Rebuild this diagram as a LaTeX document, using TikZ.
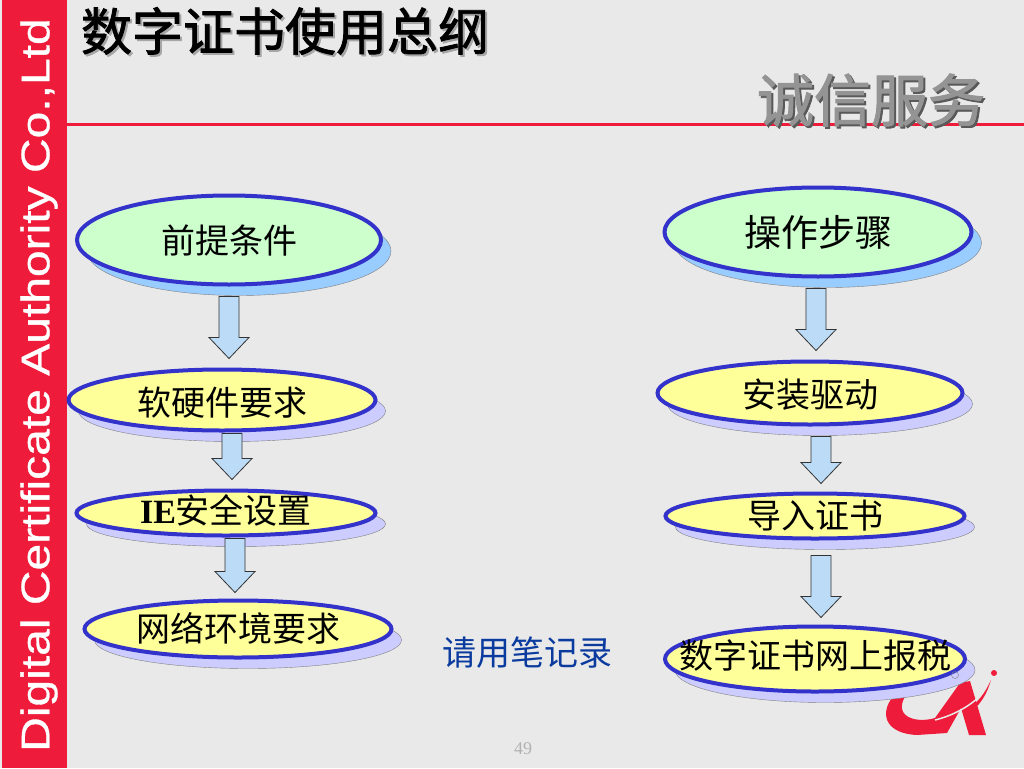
\documentclass[tikz,border=0pt]{standalone}
\usepackage{fontspec}
\setmainfont{Noto Sans CJK SC}
\newfontfamily\arialfont[FakeBold=0.7]{Liberation Sans}
\newfontfamily\timesfont{Liberation Serif}
\newfontfamily\titlefont[FakeBold=1.6]{Noto Sans CJK SC}
\usetikzlibrary{shapes.geometric,shadows,calc}
\definecolor{slidebg}{HTML}{E9E9E9}
\definecolor{cared}{HTML}{EE1C3A}
\definecolor{ringblue}{HTML}{3333CC}
\definecolor{greenfill}{HTML}{CCFFCC}
\definecolor{yellowfill}{HTML}{FFFF99}
\definecolor{skyshadow}{HTML}{99CCFF}
\definecolor{lilacshadow}{HTML}{CCCCFF}
\definecolor{arrowfill}{HTML}{BBDBF7}
\definecolor{notecolor}{HTML}{0B3B9E}
\newcommand{\lifted}[2]{\raisebox{\dimexpr#1-12pt\relax}[0pt][0pt]{\makebox[0pt]{#2}}}
\begin{document}
\begin{tikzpicture}[x=1pt,y=-1pt]
\tikzstyle{every node}=[font=\fontsize{34}{40}\selectfont,inner sep=0pt];
\tikzstyle{goal}=[ellipse,draw=ringblue,line width=4pt,fill=greenfill,
  drop shadow={shadow xshift=10pt,shadow yshift=-11pt,fill=skyshadow,draw=gray,line width=.4pt,opacity=1}];
\tikzstyle{stage}=[ellipse,draw=ringblue,line width=4pt,fill=yellowfill,
  drop shadow={shadow xshift=10pt,shadow yshift=-11pt,fill=lilacshadow,draw=gray,line width=.4pt,opacity=1}];
\tikzstyle{blockarrow}=[draw=black!80,line width=.8pt,fill=arrowfill,to path={
  let \p1=(\tikztostart),\p2=(\tikztotarget) in
  (\x1-10pt,\y1) -- (\x1-10pt,\y2+21pt) -- (\x1-20pt,\y2+21pt) -- (\x1,\y2)
  -- (\x1+20pt,\y2+21pt) -- (\x1+10pt,\y2+21pt) -- (\x1+10pt,\y1) -- cycle}];
\tikzstyle{heading}=[font=\fontsize{51}{60}\titlefont];
\tikzstyle{motto}=[font=\fontsize{57}{66}\titlefont];
\fill[slidebg] (0,0) rectangle (1024,768);
\useasboundingbox (0,0) rectangle (1024,768);
\fill[cared] (2,0) rectangle (67,768);
\draw[cared,line width=3pt] (67,124) -- (1024,124);
\node (SIDE) at (39,385) [rotate=90,text=white,font=\fontsize{40}{48}\arialfont] {\scalebox{1.2}[1]{Digital Certificate Authority Co.,Ltd}};
\node at (287,33) [heading,text=black!35] {数字证书使用总纲};
\node (TITLE) at (285,31) [heading] {数字证书使用总纲};
\node at (873,102) [motto,text=black!65] {诚信服务};
\node (MOTTO) at (871,100) [motto,text=black!42] {诚信服务};
% logo
\fill[cared] (900,690) .. controls (880,705) and (878,733) .. (917,735) -- (947,733) -- (961,708) -- (969,735) -- (986,735) -- (970,681) -- (960,683) -- (935,718) .. controls (915,724) and (890,716) .. (908,692) -- cycle;
\draw[slidebg,line width=1.5pt] (935,720) .. controls (955,715) and (972,705) .. (984,692);
\fill[cared] (966,710) .. controls (978,703) and (985,693) .. (991,680) .. controls (987,694) and (980,706) .. (968,714) -- cycle;
\fill[cared] (994,673) circle (3);
\node (PC) at (229,240) [goal,minimum width=304,minimum height=89] {\lifted{-1pt}{前提条件}};
\node (OS) at (818,232) [goal,minimum width=307,minimum height=89] {\lifted{-2pt}{\fontsize{37}{40}\selectfont 操作步骤}};
\node (SW) at (222,400) [stage,minimum width=307,minimum height=61] {\lifted{-3pt}{软硬件要求}};
\node (IE) at (226,513) [stage,minimum width=299,minimum height=45] {\lifted{2pt}{\textbf{\fontspec{Liberation Serif}IE}安全设置}};
\node (NET) at (238,629) [stage,minimum width=307,minimum height=57] {\lifted{0pt}{网络环境要求}};
\node (DRV) at (810,393) [stage,minimum width=305,minimum height=63] {\lifted{-2pt}{安装驱动}};
\node (CERT) at (815,516) [stage,minimum width=299,minimum height=45] {\lifted{0pt}{导入证书}};
\node (TAX) at (815,659) [stage,minimum width=300,minimum height=65] {\lifted{3pt}{数字证书网上报税}};
\draw[gray,line width=.4pt] (955,675) circle (3.5);
\draw[blockarrow] ([yshift=-10pt]PC.south) to ([yshift=9pt]SW.north);
\draw[blockarrow] ([yshift=-10pt,xshift=-2pt]OS.south) to ([yshift=9pt]DRV.north);
\draw[blockarrow] ([yshift=-1pt,xshift=10pt]SW.south) to ([yshift=9pt]IE.north);
\draw[blockarrow] ([yshift=-1pt,xshift=9pt]IE.south) to ([yshift=6pt]NET.north);
\draw[blockarrow] ([yshift=-10pt,xshift=11pt]DRV.south) to ([yshift=8pt]CERT.north);
\draw[blockarrow] ([yshift=-15pt,xshift=6pt]CERT.south) to ([yshift=7pt]TAX.north);
\node (NOTE) at (527,653) [text=notecolor] {请用笔记录};
\node (PAGE) at (523,749) [text=black!30,font=\fontsize{18}{20}\timesfont] {49};
\end{tikzpicture}
\end{document}
